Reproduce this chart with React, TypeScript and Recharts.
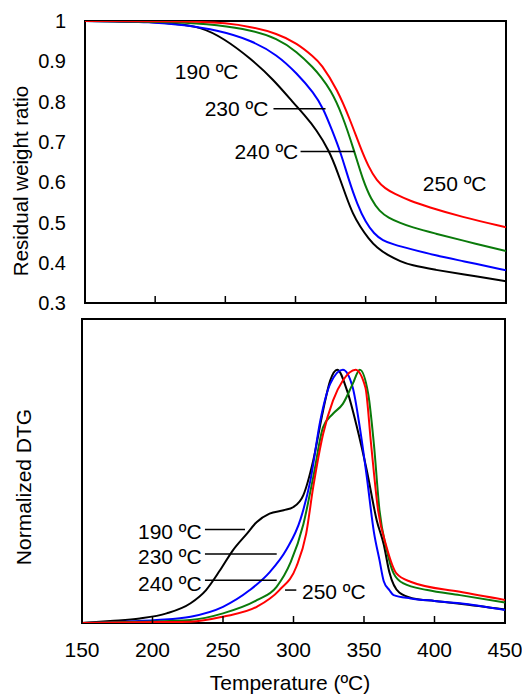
import React from "react";
import {
  LineChart,
  Line,
  XAxis,
  YAxis,
  ReferenceArea,
  ReferenceLine,
  ReferenceDot,
} from "recharts";

const FONT = "'Liberation Sans', Arial, Helvetica, sans-serif";

const tempTicks = [150, 200, 250, 300, 350, 400, 450];
const weightTicks = [0.3, 0.4, 0.5, 0.6, 0.7, 0.8, 0.9, 1];

// TGA: residual weight ratio
const tgaT190 = [150, 175, 196, 215, 232, 249, 268, 284, 299, 306, 315, 324, 330, 336, 341, 346, 352, 358, 366, 375, 382, 400, 418, 450];
const tgaW190 = [1, 0.999, 0.998, 0.993, 0.986, 0.957, 0.907, 0.856, 0.795, 0.768, 0.73, 0.678, 0.625, 0.565, 0.52, 0.49, 0.46, 0.437, 0.418, 0.403, 0.394, 0.382, 0.372, 0.354];
const tgaT230 = [150, 200, 220, 244, 268, 287, 301, 313, 320, 326, 332, 338, 344, 350, 356, 362, 370, 382, 400, 418, 450];
const tgaW230 = [1, 0.998, 0.99, 0.978, 0.953, 0.916, 0.87, 0.822, 0.782, 0.729, 0.676, 0.605, 0.545, 0.5, 0.472, 0.455, 0.445, 0.434, 0.418, 0.405, 0.381];
const tgaT240 = [150, 220, 244, 268, 287, 301, 313, 318, 325, 333, 342, 348, 354, 360, 366, 375, 382, 400, 418, 450];
const tgaW240 = [1, 0.998, 0.99, 0.978, 0.957, 0.924, 0.883, 0.862, 0.829, 0.771, 0.676, 0.605, 0.556, 0.527, 0.512, 0.498, 0.489, 0.472, 0.456, 0.429];
const tgaT250 = [150, 230, 250, 268, 287, 301, 313, 318, 330, 339, 346, 352, 358, 364, 370, 382, 394, 418, 450];
const tgaW250 = [1, 0.999, 0.995, 0.986, 0.969, 0.945, 0.911, 0.895, 0.829, 0.754, 0.688, 0.638, 0.603, 0.584, 0.572, 0.553, 0.539, 0.514, 0.488];

// DTG: normalized
const dtgT190 = [150, 170, 191, 210, 227, 238, 248, 257, 267, 274, 283, 293, 300, 307, 314, 321, 326, 331, 338, 345, 352, 359, 364, 368, 375, 385, 400, 418, 450];
const dtgV190 = [0, 0.008, 0.018, 0.038, 0.078, 0.13, 0.209, 0.287, 0.353, 0.399, 0.432, 0.445, 0.458, 0.505, 0.642, 0.839, 0.957, 1, 0.917, 0.773, 0.602, 0.406, 0.31, 0.2, 0.12, 0.097, 0.087, 0.076, 0.053];
const dtgT230 = [150, 180, 203, 227, 250, 269, 283, 295, 305, 312, 319, 326, 335, 342, 347, 352, 357, 361, 364, 368, 371, 383, 400, 418, 450];
const dtgV230 = [0, 0.005, 0.012, 0.025, 0.064, 0.13, 0.2, 0.29, 0.41, 0.563, 0.799, 0.944, 1, 0.93, 0.773, 0.576, 0.36, 0.248, 0.165, 0.13, 0.11, 0.097, 0.087, 0.078, 0.051];
const dtgT240 = [150, 190, 227, 250, 274, 288, 298, 307, 314, 321, 328, 335, 342, 347, 353, 357, 361, 366, 371, 378, 395, 418, 450];
const dtgV240 = [0, 0.005, 0.012, 0.038, 0.09, 0.143, 0.24, 0.39, 0.576, 0.773, 0.826, 0.865, 0.944, 1, 0.904, 0.707, 0.445, 0.29, 0.196, 0.156, 0.13, 0.11, 0.081];
const dtgT250 = [150, 190, 227, 250, 274, 290, 302, 309, 314, 321, 328, 335, 344, 351, 355, 360, 366, 373, 383, 418, 450];
const dtgV250 = [0, 0.003, 0.005, 0.025, 0.064, 0.13, 0.222, 0.353, 0.537, 0.746, 0.878, 0.957, 1, 0.93, 0.707, 0.445, 0.3, 0.196, 0.163, 0.123, 0.091];

const colors = { c190: "#000000", c230: "#0000ff", c240: "#0a7a0a", c250: "#ff0000" };

const zip = (t: number[], v: number[]) => t.map((x, i) => ({ t: x, v: v[i] }));

const tgaSeries = [
  { key: "190", data: zip(tgaT190, tgaW190), color: colors.c190 },
  { key: "230", data: zip(tgaT230, tgaW230), color: colors.c230 },
  { key: "240", data: zip(tgaT240, tgaW240), color: colors.c240 },
  { key: "250", data: zip(tgaT250, tgaW250), color: colors.c250 },
];
const dtgSeries = [
  { key: "190", data: zip(dtgT190, dtgV190), color: colors.c190 },
  { key: "230", data: zip(dtgT230, dtgV230), color: colors.c230 },
  { key: "240", data: zip(dtgT240, dtgV240), color: colors.c240 },
  { key: "250", data: zip(dtgT250, dtgV250), color: colors.c250 },
];

// annotations (data coordinates)
const topLabels = [
  { text: "190 ºC", t: 214, v: 0.874, anchor: "start" },
  { text: "230 ºC", t: 280.7, v: 0.782, anchor: "end" },
  { text: "240 ºC", t: 302, v: 0.675, anchor: "end" },
  { text: "250 ºC", t: 390.7, v: 0.598, anchor: "start" },
];
const topLeaders = [
  { t1: 284.3, t2: 321.4, v: 0.782 },
  { t1: 303.6, t2: 342.1, v: 0.676 },
];
const bottomLabels = [
  { text: "190 ºC", t: 234.9, v: 0.362, anchor: "end" },
  { text: "230 ºC", t: 234.9, v: 0.262, anchor: "end" },
  { text: "240 ºC", t: 234.9, v: 0.158, anchor: "end" },
  { text: "250 ºC", t: 306, v: 0.124, anchor: "start" },
];
const bottomLeaders = [
  { t1: 237.2, t2: 265.6, v: 0.369 },
  { t1: 237.2, t2: 288.1, v: 0.272 },
  { t1: 237.2, t2: 288.1, v: 0.169 },
  { t1: 294, t2: 302, v: 0.13 },
];

const noTick = () => <g />;

const annoShape = (text: string, anchor: string) => (props: any) => (
  <text
    x={props.cx}
    y={props.cy}
    dy="0.36em"
    textAnchor={anchor}
    fontSize={21}
    fontFamily={FONT}
    fill="#000"
  >
    {text}
  </text>
);

const yTitle = (text: string, x: number, shift: number, size: number) => (props: any) => {
  const vb = props.viewBox;
  const cy = vb.y + vb.height / 2 + shift;
  return (
    <text
      x={x}
      y={cy}
      transform={`rotate(-90 ${x} ${cy})`}
      textAnchor="middle"
      dominantBaseline="central"
      fontSize={size}
      fontFamily={FONT}
      fill="#000"
    >
      {text}
    </text>
  );
};

export default function App() {
  return (
    <div style={{ position: "absolute", left: 0, top: 0, width: 522, height: 695, background: "#fff" }}>
      <div style={{ position: "absolute", left: 0, top: 0 }}>
        <LineChart width={522} height={318} margin={{ top: 21, right: 16, bottom: 14, left: 0 }}>
          <XAxis
            type="number"
            dataKey="t"
            domain={[150, 450]}
            ticks={tempTicks}
            allowDataOverflow
            axisLine={false}
            tickLine={{ stroke: "#000", strokeWidth: 1.5 }}
            tickSize={-7}
            tick={noTick}
            height={1}
          />
          <YAxis
            type="number"
            domain={[0.3, 1]}
            ticks={weightTicks}
            interval={0}
            allowDataOverflow
            width={85}
            axisLine={false}
            tickLine={false}
            tickSize={0}
            tickMargin={19}
            tickFormatter={(v: number) => (v === 1 ? "1" : v.toFixed(1))}
            tick={{ fill: "#000", fontSize: 20, fontFamily: FONT }}
            label={{ content: yTitle("Residual weight ratio", 20, 19, 20.5) }}
          />
          {tgaSeries.map((s) => (
            <Line
              key={s.key}
              data={s.data}
              dataKey="v"
              type="basis"
              stroke={s.color}
              strokeWidth={2}
              dot={false}
              isAnimationActive={false}
            />
          ))}
          {topLeaders.map((l, i) => (
            <ReferenceLine
              key={"tl" + i}
              segment={[{ x: l.t1, y: l.v }, { x: l.t2, y: l.v }]}
              stroke="#000"
              strokeWidth={1.5}
            />
          ))}
          {topLabels.map((l, i) => (
            <ReferenceDot key={"tx" + i} x={l.t} y={l.v} r={0} shape={annoShape(l.text, l.anchor)} />
          ))}
          <ReferenceArea x1={150} x2={450} y1={0.3} y2={1} fill="none" stroke="#000" strokeWidth={2} />
        </LineChart>
      </div>
      <div style={{ position: "absolute", left: 0, top: 310 }}>
        <LineChart width={522} height={385} margin={{ top: 9, right: 17, bottom: 0, left: 0 }}>
          <XAxis
            type="number"
            dataKey="t"
            domain={[150, 450]}
            ticks={tempTicks}
            interval={0}
            allowDataOverflow
            axisLine={false}
            tickLine={{ stroke: "#000", strokeWidth: 1.5 }}
            tickSize={-7}
            tickMargin={26}
            tick={{ fill: "#000", fontSize: 21, fontFamily: FONT }}
            height={72}
            label={{
              content: () => (
                <text x={290} y={380} textAnchor="middle" fontSize={21} fontFamily={FONT} fill="#000">
                  Temperature (ºC)
                </text>
              ),
            }}
          />
          <YAxis
            type="number"
            domain={[0, 1.2]}
            allowDataOverflow
            width={82}
            axisLine={false}
            tickLine={false}
            tick={noTick}
            label={{ content: yTitle("Normalized DTG", 23, 16, 21) }}
          />
          {dtgSeries.map((s) => (
            <Line
              key={s.key}
              data={s.data}
              dataKey="v"
              type="monotone"
              stroke={s.color}
              strokeWidth={2}
              dot={false}
              isAnimationActive={false}
            />
          ))}
          {bottomLeaders.map((l, i) => (
            <ReferenceLine
              key={"bl" + i}
              segment={[{ x: l.t1, y: l.v }, { x: l.t2, y: l.v }]}
              stroke="#000"
              strokeWidth={1.5}
            />
          ))}
          {bottomLabels.map((l, i) => (
            <ReferenceDot key={"bx" + i} x={l.t} y={l.v} r={0} shape={annoShape(l.text, l.anchor)} />
          ))}
          <ReferenceArea x1={150} x2={450} y1={0} y2={1.2} fill="none" stroke="#000" strokeWidth={2} />
        </LineChart>
      </div>
    </div>
  );
}
